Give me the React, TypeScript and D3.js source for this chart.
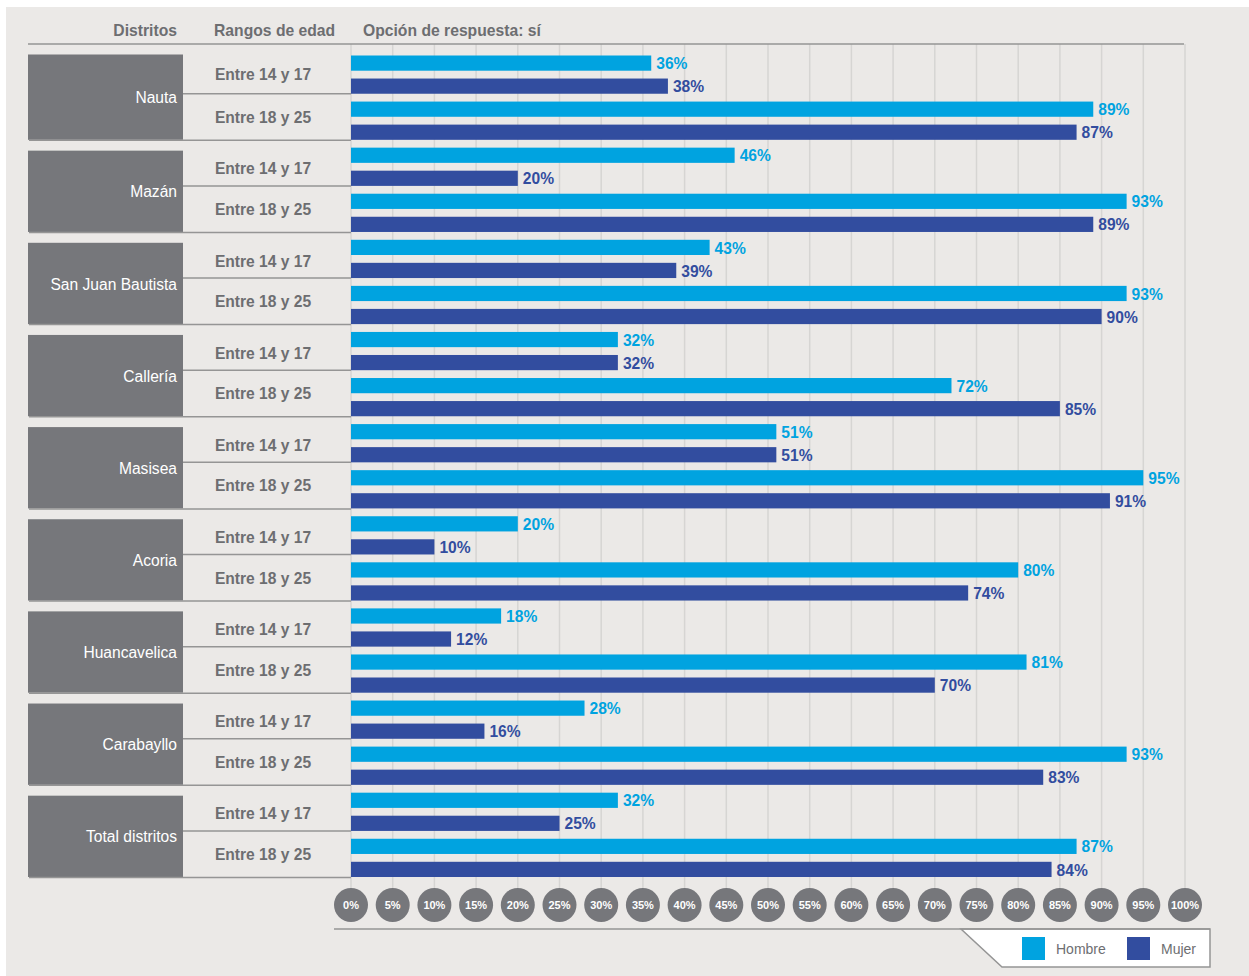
import React from "react";
import * as d3 from "d3";

// Districts and age ranges
const districts = [
  "Nauta",
  "Mazán",
  "San Juan Bautista",
  "Callería",
  "Masisea",
  "Acoria",
  "Huancavelica",
  "Carabayllo",
  "Total distritos",
];
const ageRanges = ["Entre 14 y 17", "Entre 18 y 25"];
const sexes = ["Hombre", "Mujer"];

// Percent answering "sí", per district: [14-17, 18-25]
const hombre = [
  [36, 89],
  [46, 93],
  [43, 93],
  [32, 72],
  [51, 95],
  [20, 80],
  [18, 81],
  [28, 93],
  [32, 87],
];
const mujer = [
  [38, 87],
  [20, 89],
  [39, 90],
  [32, 85],
  [51, 91],
  [10, 74],
  [12, 70],
  [16, 83],
  [25, 84],
];

const ticks = d3.range(0, 101, 5);

const W = 1249;
const H = 976;
const FONT = "'Liberation Sans', Arial, Helvetica, sans-serif";
const TEXT_GRAY = "#6d6e71";
const BOX_GRAY = "#76777b";
const LINE_GRAY = "#959595";
const GRID = "#d6d5d3";
const BG = "#ebe9e7";
const COLORS: Record<string, string> = { Hombre: "#00a3e0", Mujer: "#324d9f" };
const FS = 15.6;
const DY = 2; // optical nudge for vertically centred text

type Row = { d: number; a: number; s: string; v: number; key: string };

const rows: Row[] = [];
districts.forEach((_, d) => {
  ageRanges.forEach((__, a) => {
    sexes.forEach((s) => {
      const v = s === "Hombre" ? hombre[d][a] : mujer[d][a];
      rows.push({ d, a, s, v, key: `${d}-${a}-${s}` });
    });
  });
});

const x = d3.scaleLinear().domain([0, 100]).range([351, 1185]);
const y = d3
  .scaleBand<string>()
  .domain(rows.map((r) => r.key))
  .range([55.5, 877])
  .paddingInner(0.34);

export default function App() {
  const bw = y.bandwidth();
  const axisY = 929;
  const bubbleY = 905;

  return (
    <svg
      width={W}
      height={H}
      style={{ position: "absolute", left: 0, top: 0, display: "block" }}
      fontFamily={FONT}
    >
      <rect x={0} y={0} width={W} height={H} fill="#ffffff" />
      <rect x={6} y={7} width={W - 6} height={H - 7} fill={BG} />

      {/* vertical grid */}
      {ticks.map((t) => (
        <line
          key={`g${t}`}
          x1={x(t)}
          x2={x(t)}
          y1={44}
          y2={bubbleY - 12}
          stroke={GRID}
          strokeWidth={1.5}
        />
      ))}

      {/* header */}
      <g fill={TEXT_GRAY} fontWeight="bold" fontSize={15.7}>
        <text x={177} y={30 + DY} textAnchor="end" dominantBaseline="middle">
          Distritos
        </text>
        <text x={214} y={30 + DY} dominantBaseline="middle">
          Rangos de edad
        </text>
        <text x={363} y={30 + DY} dominantBaseline="middle">
          Opción de respuesta: sí
        </text>
      </g>
      <line x1={28} x2={1184} y1={44} y2={44} stroke={LINE_GRAY} strokeWidth={1.5} />

      {/* district boxes and age-range cells */}
      {districts.map((name, d) => {
        const first = y(`${d}-0-Hombre`)!;
        const second = y(`${d}-0-Mujer`)! + bw;
        const last = y(`${d}-1-Mujer`)! + bw;
        const top = first + (d === 0 ? -1 : 3);
        return (
          <g key={name}>
            <rect x={28} y={top} width={155} height={last - top} fill={BOX_GRAY} />
            <text
              x={177}
              y={(top + last) / 2 + DY}
              textAnchor="end"
              dominantBaseline="middle"
              fill="#ffffff"
              fontSize={FS}
            >
              {name}
            </text>
            <line x1={183} x2={351} y1={second} y2={second} stroke={LINE_GRAY} strokeWidth={1.5} />
            <line x1={29} x2={351} y1={last + 0.5} y2={last + 0.5} stroke={LINE_GRAY} strokeWidth={1.5} />
            <text
              x={263}
              y={(top + second) / 2 + DY}
              textAnchor="middle"
              dominantBaseline="middle"
              fill={TEXT_GRAY}
              fontWeight="bold"
              fontSize={FS}
            >
              {ageRanges[0]}
            </text>
            <text
              x={263}
              y={(second + last) / 2 + DY}
              textAnchor="middle"
              dominantBaseline="middle"
              fill={TEXT_GRAY}
              fontWeight="bold"
              fontSize={FS}
            >
              {ageRanges[1]}
            </text>
          </g>
        );
      })}

      {/* bars */}
      {rows.map((r) => (
        <g key={r.key}>
          <rect
            x={x(0)}
            y={y(r.key)!}
            width={x(r.v) - x(0)}
            height={bw}
            fill={COLORS[r.s]}
          />
          <text
            x={x(r.v) + 5}
            y={y(r.key)! + bw / 2 + DY}
            dominantBaseline="middle"
            fill={COLORS[r.s]}
            fontWeight="bold"
            fontSize={FS}
          >
            {`${r.v}%`}
          </text>
        </g>
      ))}

      {/* tick bubbles */}
      {ticks.map((t) => (
        <g key={`b${t}`}>
          <circle cx={x(t)} cy={bubbleY} r={17} fill={BOX_GRAY} />
          <text
            x={x(t)}
            y={bubbleY + 1}
            textAnchor="middle"
            dominantBaseline="middle"
            fill="#ffffff"
            fontWeight="bold"
            fontSize={11}
          >
            {`${t}%`}
          </text>
        </g>
      ))}

      {/* bottom rule and legend tab */}
      <polygon
        points={`961,${axisY} 1210,${axisY} 1210,967 1002,967`}
        fill="#ffffff"
        stroke={LINE_GRAY}
        strokeWidth={1.5}
      />
      <line x1={334} x2={1210} y1={axisY} y2={axisY} stroke={LINE_GRAY} strokeWidth={1.5} />
      {sexes.map((s, i) => {
        const sx = i === 0 ? 1022 : 1127;
        return (
          <g key={s}>
            <rect x={sx} y={937} width={23} height={23} fill={COLORS[s]} />
            <text
              x={sx + 34}
              y={949 + 1}
              dominantBaseline="middle"
              fill={TEXT_GRAY}
              fontSize={14}
            >
              {s}
            </text>
          </g>
        );
      })}
    </svg>
  );
}
